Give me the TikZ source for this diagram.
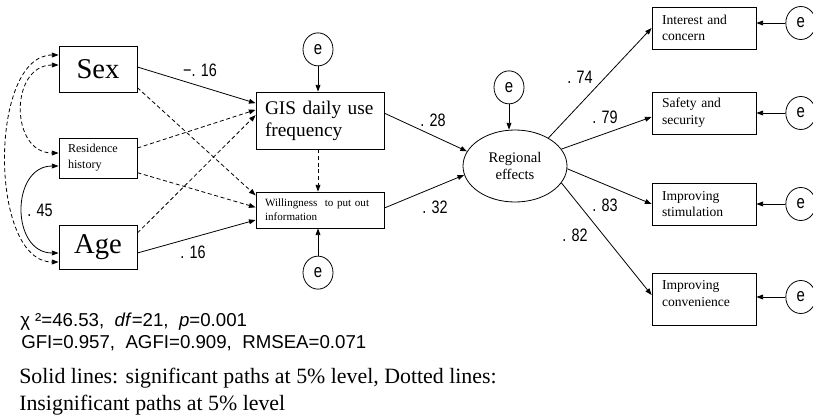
\documentclass[tikz,border=0pt]{standalone}
\usepackage{fontspec}
\setmainfont{Liberation Serif}
\setsansfont{Liberation Sans}
\newfontfamily\narrowsans[FakeStretch=0.8]{Liberation Sans}
\usetikzlibrary{arrows.meta,positioning,shapes.geometric}
\tikzset{
  obsbig/.style={
    draw,
    line width=0.6pt,
    minimum width=58.5pt,
    minimum height=#1,
    inner sep=0pt,
    font=\fontsize{21.5}{24}\selectfont
  },
  obssmall/.style={
    draw,
    line width=0.6pt,
    align=left,
    text width=#1,
    inner xsep=6.75pt,
    inner ysep=0pt
  },
  outbox/.style={
    draw,
    line width=0.6pt,
    align=left,
    text width=63pt,
    inner xsep=7.5pt,
    inner ysep=0pt,
    minimum height=31.5pt,
    font=\fontsize{10.2}{12.5}\selectfont
  },
  latent/.style={
    draw,
    ellipse,
    line width=0.6pt,
    minimum width=78pt,
    minimum height=54pt,
    inner sep=0pt,
    align=center,
    font=\fontsize{11}{13}\selectfont
  },
  err/.style={
    draw,
    ellipse,
    line width=0.6pt,
    minimum width=22.5pt,
    minimum height=24.75pt,
    inner sep=0pt,
    font=\narrowsans\fontsize{14}{14}\selectfont
  },
  coef/.style={
    inner sep=0pt,
    font=\narrowsans\fontsize{13.5}{14}\selectfont
  },
  sigpath/.style={
    -{Triangle[length=5pt,width=3.6pt]},
    line width=0.6pt
  },
  nspath/.style={
    sigpath,
    dash pattern=on 3pt off 2pt
  },
  sigcov/.style={
    {Triangle[length=5pt,width=3.6pt]}-{Triangle[length=5pt,width=3.6pt]},
    line width=0.6pt
  },
  nscov/.style={
    sigcov,
    dash pattern=on 3pt off 2pt
  }
}

\begin{document}
\begin{tikzpicture}[x=0.75pt,y=-0.75pt]
\useasboundingbox (0,0) rectangle (813,418);

\node[obsbig=34.5pt] (sex) at (98,69) {Sex};
\node[obssmall=45pt,minimum height=30pt,font=\fontsize{9.1}{12}\selectfont] (res) at (98,158) {Residence\\history};
\node[obsbig=33pt] (age) at (98,247) {Age};

\node[obssmall=82.5pt,minimum height=42.75pt,font=\fontsize{14.5}{16.5}\selectfont] (gis) at (320,120.5) {GIS daily use\\frequency};
\node[obssmall=82.5pt,minimum height=27pt,font=\fontsize{8.3}{10.5}\selectfont] (will) at (320,210) {Willingness~ to put out\\information};
\node[err,above=19pt of gis,xshift=-1.5pt] (egis) {e};
\node[err,below=20.5pt of will,xshift=-1.5pt] (ewill) {e};

\node[latent] (reg) at (515,166) {Regional\\effects};
\node[err,above=19pt of reg,xshift=-4.5pt] (ereg) {e};

\node[outbox] (interest) at (704,28) {Interest and\\concern};
\node[outbox] (safety) at (704,113) {Safety and\\security};
\node[outbox] (stim) at (704,204) {Improving\\stimulation};
\node[outbox,minimum height=39pt] (conv) at (704,299) {Improving\\convenience\\[-4pt]\mbox{}};
\node[err,right=21.75pt of interest,yshift=3.75pt] (eint) {e};
\node[err,right=21.75pt of safety] (esaf) {e};
\node[err,right=21.75pt of stim] (estim) {e};
\node[err,right=21.75pt of conv,yshift=1.5pt] (econv) {e};

\draw[nscov] ([yshift=10.5pt]sex.west) .. controls +(-52.5pt,0) and +(-52.5pt,0) .. ([yshift=-11.25pt]age.west);
\draw[nscov] ([yshift=3pt]sex.west) .. controls +(-36.75pt,0) and +(-36.75pt,0) .. ([yshift=3.75pt]res.west);
\draw[sigcov] ([yshift=-6pt]res.west) .. controls +(-36pt,0) and +(-36pt,0) .. ([yshift=-4.5pt]age.west);

\draw[sigpath] ([yshift=1.5pt]sex.east) -- ([yshift=13pt]gis.west);
\draw[nspath] ([yshift=-14pt]sex.east) -- ([yshift=11pt]will.west);
\draw[nspath] ([yshift=7.5pt]res.east) -- ([yshift=8pt]gis.west);
\draw[nspath] ([yshift=-11pt]res.east) -- ([yshift=2pt]will.west);
\draw[nspath] ([yshift=10.5pt]age.east) -- ([yshift=4pt]gis.west);
\draw[sigpath] ([yshift=-4.5pt]age.east) -- ([yshift=-7.5pt]will.west);

\draw[nspath] ([xshift=-1.5pt]gis.south) -- ([xshift=-1.5pt]will.north);
\draw[sigpath] (egis) -- (egis |- gis.north);
\draw[sigpath] (ewill) -- (ewill |- will.south);

\draw[sigpath] ([yshift=5.5pt]gis.east) -- (reg.163);
\draw[sigpath] ([yshift=1.5pt]will.east) -- (reg.190);
\draw[sigpath] (ereg) -- (ereg |- reg.north);

\draw[sigpath] (reg.40) -- (interest.west);
\draw[sigpath] (reg.20) -- ([yshift=-3pt]safety.west);
\draw[sigpath] (reg.357) -- (stim.west);
\draw[sigpath] (reg.340) -- ([yshift=3pt]conv.west);

\draw[sigpath] (eint.west) -- (eint.west -| interest.east);
\draw[sigpath] (esaf.west) -- (esaf.west -| safety.east);
\draw[sigpath] (estim.west) -- (estim.west -| stim.east);
\draw[sigpath] (econv.west) -- (econv.west -| conv.east);

\node[coef] (csexgis) at (200,70) {−. 16};
\node[coef] (cagewill) at (193,252) {. 16};
\node[coef] (cresage) at (40,210) {. 45};
\node[coef] (cgisreg) at (433,120) {. 28};
\node[coef] (cwillreg) at (435,207) {. 32};
\node[coef] (cint) at (580,77) {. 74};
\node[coef] (csaf) at (605,117) {. 79};
\node[coef] (cstim) at (605,205) {. 83};
\node[coef] (cconv) at (575,235) {. 82};

\node[anchor=base west,inner sep=0pt,font=\sffamily\fontsize{14}{16}\selectfont] (fit1) at (20,326) {χ ²=46.53,\ \ \textit{df}=21,\ \ \textit{p}=0.001};
\node[anchor=base west,inner sep=0pt,font=\sffamily\fontsize{14}{16}\selectfont] (fit2) at (21,348) {GFI=0.957,\ \ AGFI=0.909,\ \ RMSEA=0.071};
\node[anchor=base west,inner sep=0pt,font=\fontsize{16.4}{19}\selectfont] (note1) at (19,383) {Solid lines: significant paths at 5\% level, Dotted lines:};
\node[anchor=base west,inner sep=0pt,font=\fontsize{16.4}{19}\selectfont] (note2) at (19,410) {Insignificant paths at 5\% level};
\end{tikzpicture}
\end{document}
